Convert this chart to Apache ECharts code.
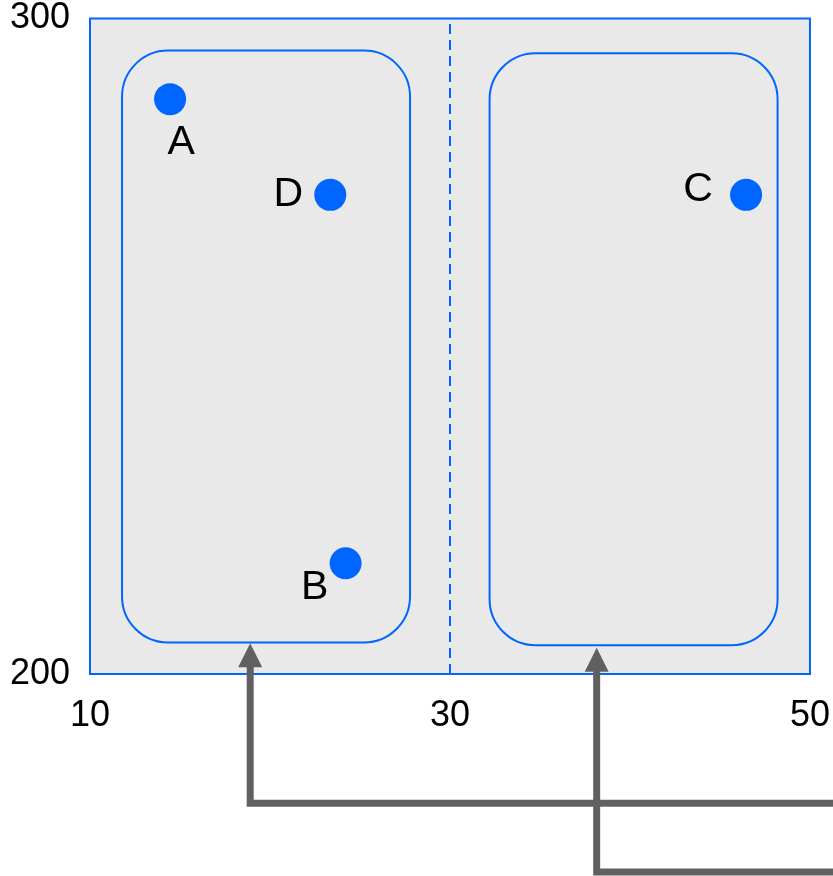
<!DOCTYPE html>
<html>
<head>
    <meta charset="utf-8">
    <script src="https://cdn.jsdelivr.net/npm/echarts@6/dist/echarts.min.js"></script>
    <style type="text/css">
        html, body { margin: 0; padding: 0; background: #fff; }
    </style>
</head>
<body>
    <div id="main" style="width: 833px;height:876px;"></div>
    <script type="text/javascript">
        // points
        var names = ['A', 'B', 'C', 'D'];
        var xs = [14.45, 24.2, 46.45, 23.35];
        var ys = [287.7, 216.9, 273.1, 273.1];
        // axis ticks
        var xTicks = [10, 30, 50];
        var yTicks = [200, 300];
        // the two group boxes: [x1, y1, x2, y2]
        var boxes = [
            [11.78, 204.8, 27.78, 295.1],
            [32.2, 204.4, 48.2, 294.7]
        ];
        var divider = 30;
        // arrows: [x, tipY, cornerY, endX]
        var arrows = [
            [18.9, 204.7, 180.3, 52],
            [38.15, 204.0, 169.8, 52]
        ];

        // label offsets, pixels (style only)
        var labelOffsets = {
            A: [11, 44],
            B: [-31, 24],
            C: [-48, -5],
            D: [-42, 0]
        };

        var blue = '#0066ff';
        var font = "'Liberation Sans', Arial, sans-serif";

        var pointData = [];
        for (var i = 0; i < names.length; i++) {
            pointData.push({
                name: names[i],
                value: [xs[i], ys[i]],
                label: { offset: labelOffsets[names[i]] }
            });
        }

        var myChart = echarts.init(document.getElementById('main'));
        var option = {
            animation: false,
            backgroundColor: '#fff',
            grid: {
                left: 90, top: 18.5, right: 22.5, bottom: 202,
                show: true,
                backgroundColor: '#e9e9e9',
                borderColor: blue,
                borderWidth: 2
            },
            xAxis: {
                type: 'value',
                min: xTicks[0], max: xTicks[xTicks.length - 1],
                interval: xTicks[1] - xTicks[0],
                axisLine: { show: false },
                axisTick: { show: false },
                splitLine: { show: false },
                axisLabel: { fontSize: 36, color: '#000', fontFamily: font, margin: 24 }
            },
            yAxis: {
                type: 'value',
                min: yTicks[0], max: yTicks[1],
                interval: yTicks[1] - yTicks[0],
                axisLine: { show: false },
                axisTick: { show: false },
                splitLine: { show: false },
                axisLabel: { fontSize: 36, color: '#000', fontFamily: font, margin: 20 }
            },
            series: [{
                type: 'custom',
                clip: false,
                silent: true,
                encode: { x: [0, 2], y: [1, 3] },
                data: boxes,
                renderItem: function (params, api) {
                    var tl = api.coord([api.value(0), api.value(3)]);
                    var br = api.coord([api.value(2), api.value(1)]);
                    return {
                        type: 'rect',
                        shape: { x: tl[0], y: tl[1], width: br[0] - tl[0], height: br[1] - tl[1], r: 46 },
                        style: { fill: 'none', stroke: blue, lineWidth: 2 }
                    };
                },
                markLine: {
                    silent: true,
                    symbol: 'none',
                    label: { show: false },
                    lineStyle: { color: blue, type: [10, 6], width: 2 },
                    data: [{ xAxis: divider }]
                }
            }, {
                type: 'custom',
                clip: false,
                silent: true,
                encode: { x: [0, 3], y: [1, 2] },
                data: arrows,
                renderItem: function (params, api) {
                    var tip = api.coord([api.value(0), api.value(1)]);
                    var corner = api.coord([api.value(0), api.value(2)]);
                    var end = api.coord([api.value(3), api.value(2)]);
                    return {
                        type: 'group',
                        children: [{
                            type: 'polyline',
                            shape: { points: [[tip[0], tip[1] + 20], corner, end] },
                            style: { fill: 'none', stroke: '#606060', lineWidth: 7, lineJoin: 'miter' }
                        }, {
                            type: 'polygon',
                            shape: { points: [tip, [tip[0] - 12, tip[1] + 24], [tip[0] + 12, tip[1] + 24]] },
                            style: { fill: '#606060' }
                        }]
                    };
                }
            }, {
                type: 'scatter',
                symbol: 'circle',
                symbolSize: 32,
                itemStyle: { color: blue, opacity: 1 },
                label: {
                    show: true,
                    position: 'inside',
                    formatter: '{b}',
                    color: '#000',
                    fontSize: 41,
                    fontFamily: font
                },
                data: pointData
            }]
        };
        myChart.setOption(option);
    </script>
</body>
</html>
